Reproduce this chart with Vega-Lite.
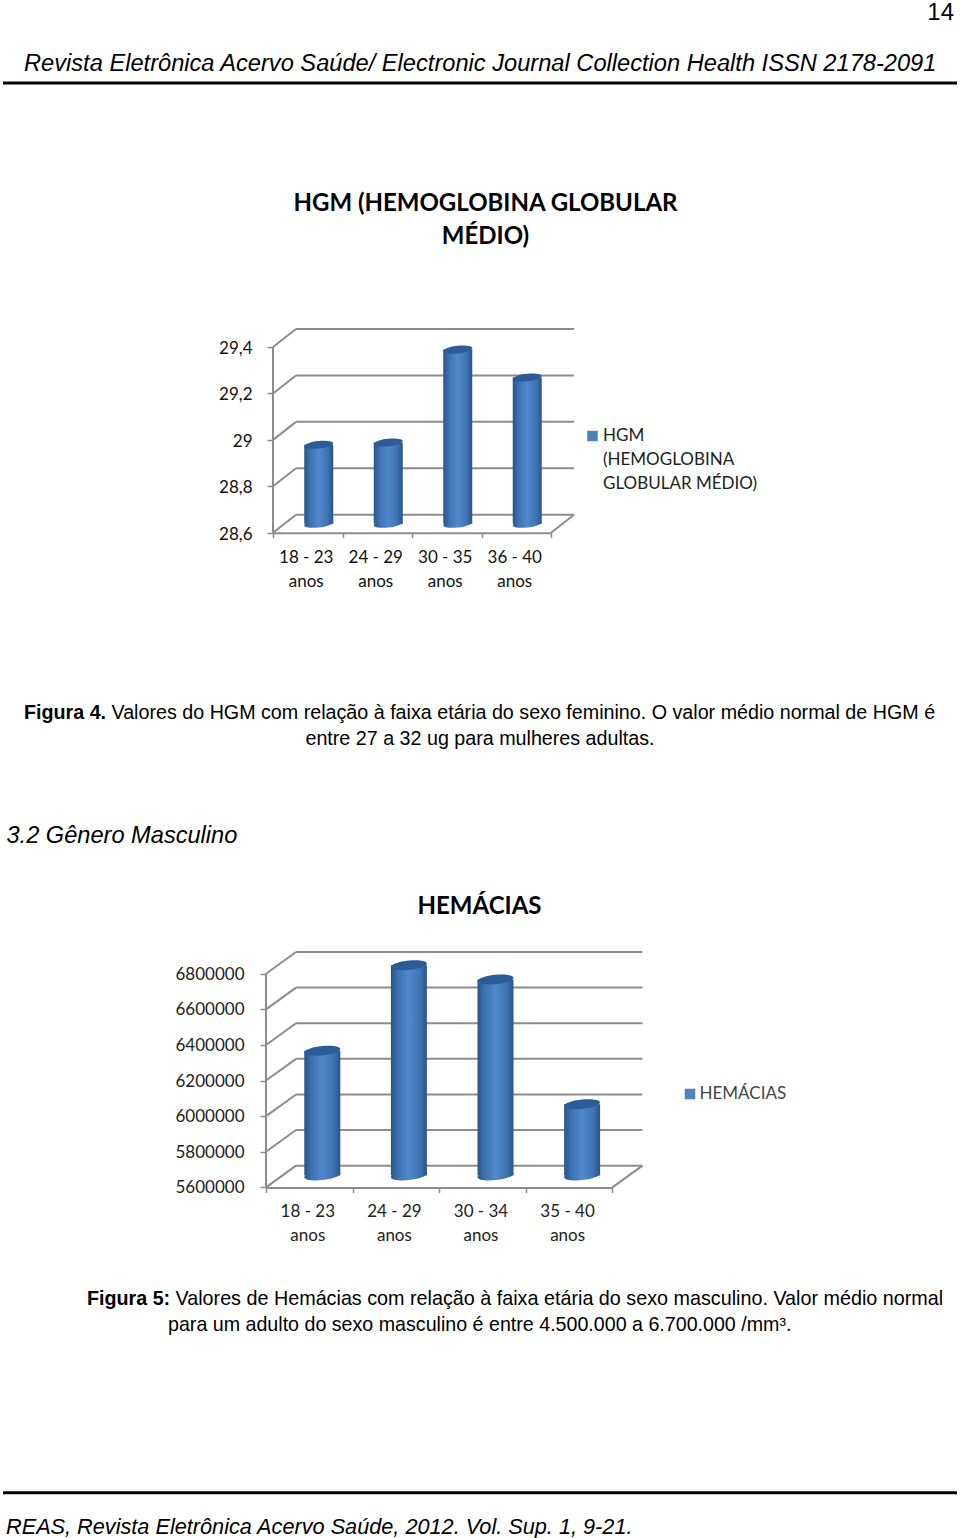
{
"$schema":"https://vega.github.io/schema/vega-lite/v6.json",
"background":"white","padding":0,"spacing":0,"bounds":"flush",
"config":{"view":{"stroke":null},"text":{"font":"Liberation Sans","color":"#000"}},
"datasets":{
"g1":[{"n0":28.6,"n1":28.6776,"a":0,"b":0.331,"c":4.331},{"n0":28.8,"n1":28.8776,"a":0,"b":0.331,"c":4.331},{"n0":29.0,"n1":29.0776,"a":0,"b":0.331,"c":4.331},{"n0":29.2,"n1":29.2776,"a":0,"b":0.331,"c":4.331},{"n0":29.4,"n1":29.4776,"a":0,"b":0.331,"c":4.331}],
"b1":[{"faixa":"18 - 23 anos","valor":28.94},{"faixa":"24 - 29 anos","valor":28.95},{"faixa":"30 - 35 anos","valor":29.35},{"faixa":"36 - 40 anos","valor":29.23}],
"g2":[{"n0":5600000,"n1":5722000,"a":0,"b":0.347,"c":4.347},{"n0":5800000,"n1":5922000,"a":0,"b":0.347,"c":4.347},{"n0":6000000,"n1":6122000,"a":0,"b":0.347,"c":4.347},{"n0":6200000,"n1":6322000,"a":0,"b":0.347,"c":4.347},{"n0":6400000,"n1":6522000,"a":0,"b":0.347,"c":4.347},{"n0":6600000,"n1":6722000,"a":0,"b":0.347,"c":4.347},{"n0":6800000,"n1":6922000,"a":0,"b":0.347,"c":4.347}],
"b2":[{"faixa":"18 - 23 anos","valor":6300000},{"faixa":"24 - 29 anos","valor":6780000},{"faixa":"30 - 34 anos","valor":6700000},{"faixa":"35 - 40 anos","valor":6000000}]
},
"vconcat":[
{"width":960,"height":329,"layer":[
{"data":{"values":[{"t":"14"}]},"mark":{"type":"text","x":954,"y":19.5,"align":"right","baseline":"alphabetic","fontSize":24},"encoding":{"text":{"field":"t"}}},
{"data":{"values":[{"t":"Revista Eletrônica Acervo Saúde/ Electronic Journal Collection Health ISSN 2178-2091"}]},"mark":{"type":"text","x":24,"y":70.5,"align":"left","baseline":"alphabetic","fontSize":23.65,"fontStyle":"italic"},"encoding":{"text":{"field":"t"}}},
{"data":{"values":[{"r":1}]},"mark":{"type":"rule","strokeWidth":3,"color":"#000"},"encoding":{"x":{"value":3},"x2":{"value":957},"y":{"value":83}}}
]},
{"width":960,"height":203.7,
"title":{"text":["HGM (HEMOGLOBINA GLOBULAR","MÉDIO)"],"font":"Lato","fontSize":24,"fontWeight":"bold","anchor":"middle","frame":"group","offset":79,"dx":5.5,"lineHeight":33,"color":"#000"},
"layer":[
{"data":{"name":"g1"},"mark":{"type":"rule","color":"#8c8c8c","strokeWidth":2},"encoding":{"x":{"field":"a","type":"quantitative","axis":null,"scale":{"domain":[0,4],"range":[273,551]}},"x2":{"field":"b"},"y":{"field":"n0","type":"quantitative","axis":{"values":[28.6,28.8,29,29.2,29.4],"tickCount":5,"format":".1~f","labelExpr":"replace(datum.label,'.',',')","labelOverlap":false,"title":null,"grid":false,"domain":false,"offset":-273,"tickColor":"#8c8c8c","tickSize":6,"tickWidth":1.5,"labelPadding":15,"labelOffset":1.5,"labelFont":"Lato","labelFontSize":17,"labelColor":"#111"},"scale":{"domain":[28.6,29.4776],"nice":false,"zero":false}},"y2":{"field":"n1"}}},
{"data":{"name":"g1"},"mark":{"type":"rule","color":"#8c8c8c","strokeWidth":2},"encoding":{"x":{"field":"b","type":"quantitative","axis":null,"scale":{"domain":[0,4],"range":[273,551]}},"x2":{"field":"c"},"y":{"field":"n1","type":"quantitative"}}},
{"data":{"values":[{"a":0,"n0":28.6,"n1":29.4}]},"mark":{"type":"rule","color":"#8c8c8c","strokeWidth":2},"encoding":{"x":{"field":"a","type":"quantitative","axis":null,"scale":{"domain":[0,4],"range":[273,551]}},"y":{"field":"n0","type":"quantitative"},"y2":{"field":"n1"}}},
{"data":{"values":[{"a":4,"b":4.331,"n0":28.6,"n1":28.6776}]},"mark":{"type":"rule","color":"#8c8c8c","strokeWidth":2},"encoding":{"x":{"field":"a","type":"quantitative","axis":null,"scale":{"domain":[0,4],"range":[273,551]}},"x2":{"field":"b"},"y":{"field":"n0","type":"quantitative"},"y2":{"field":"n1"}}},
{"data":{"name":"b1"},"mark":{"type":"bar","width":29,"xOffset":11,"yOffset":-9,"y2Offset":-9,"color":{"gradient":"linear","x1":0,"y1":0,"x2":1,"y2":0,"stops":[{"offset":0,"color":"#2a5488"},{"offset":0.22,"color":"#3f74b4"},{"offset":0.5,"color":"#5088cc"},{"offset":0.8,"color":"#3f74b4"},{"offset":1,"color":"#2a5488"}]}},"encoding":{"x":{"field":"faixa","type":"nominal","sort":null,"scale":{"range":[273,551],"paddingInner":0,"paddingOuter":0},"axis":{"title":null,"labelAngle":0,"labelExpr":"datum.label ? [replace(datum.label,' anos',''),'anos'] : ''","labelOverlap":false,"labelLineHeight":24,"labelBaseline":"top","tickBand":"extent","domainColor":"#8c8c8c","domainWidth":2,"tickColor":"#8c8c8c","tickSize":5,"tickWidth":1.5,"labelPadding":12,"labelOffset":-2,"labelFont":"Lato","labelFontSize":17,"labelColor":"#111"}},"y":{"field":"valor","type":"quantitative"},"y2":{"datum":28.6}}},
{"data":{"name":"b1"},"mark":{"type":"point","filled":true,"opacity":1,"size":841,"xOffset":11,"yOffset":-9,"shape":"M-1,0.1 A1,0.26 -6 1 0 1,-0.1 A1,0.26 -6 1 0 -1,0.1 Z","color":{"gradient":"linear","x1":0,"y1":0,"x2":1,"y2":0,"stops":[{"offset":0,"color":"#2a5488"},{"offset":0.22,"color":"#3f74b4"},{"offset":0.5,"color":"#5088cc"},{"offset":0.8,"color":"#3f74b4"},{"offset":1,"color":"#2a5488"}]}},"encoding":{"x":{"field":"faixa","type":"nominal","sort":null,"axis":null,"scale":{"range":[273,551],"paddingInner":0,"paddingOuter":0}},"y":{"datum":28.6}}},
{"data":{"name":"b1"},"mark":{"type":"point","filled":true,"opacity":1,"size":841,"xOffset":11,"yOffset":-9,"shape":"M-1,0.1 A1,0.26 -6 1 0 1,-0.1 A1,0.26 -6 1 0 -1,0.1 Z","color":"#2b5c98"},"encoding":{"x":{"field":"faixa","type":"nominal","sort":null,"axis":null,"scale":{"range":[273,551],"paddingInner":0,"paddingOuter":0}},"y":{"field":"valor","type":"quantitative"}}},
{"data":{"values":[{"s":"HGM (HEMOGLOBINA GLOBULAR MÉDIO)"}]},"mark":{"type":"square","x":592.5,"y":107,"size":110,"color":"#4f81bd","opacity":1},"encoding":{"detail":{"field":"s"}}},
{"data":{"values":[{"t":["HGM","(HEMOGLOBINA","GLOBULAR MÉDIO)"]}]},"mark":{"type":"text","x":603,"y":107,"align":"left","baseline":"middle","lineHeight":24,"font":"Lato","fontSize":17,"color":"#222"},"encoding":{"text":{"field":"t"}}}
],
"resolve":{"scale":{"x":"independent"},"axis":{"x":"independent"}}},
{"width":960,"height":418.6,"layer":[
{"data":{"values":[{"t":"Figura 4."}]},"mark":{"type":"text","x":24,"y":186,"align":"left","baseline":"alphabetic","fontSize":19.7,"fontWeight":"bold"},"encoding":{"text":{"field":"t"}}},
{"data":{"values":[{"t":"Valores do HGM com relação à faixa etária do sexo feminino. O valor médio normal de HGM é"}]},"mark":{"type":"text","x":111.5,"y":186,"align":"left","baseline":"alphabetic","fontSize":19.7},"encoding":{"text":{"field":"t"}}},
{"data":{"values":[{"t":"entre 27 a 32 ug para mulheres adultas."}]},"mark":{"type":"text","x":480,"y":212,"align":"center","baseline":"alphabetic","fontSize":19.7},"encoding":{"text":{"field":"t"}}},
{"data":{"values":[{"t":"3.2 Gênero Masculino"}]},"mark":{"type":"text","x":6.5,"y":310,"align":"left","baseline":"alphabetic","fontSize":23.6,"fontStyle":"italic"},"encoding":{"text":{"field":"t"}}}
]},
{"width":960,"height":235.4,
"title":{"text":"HEMÁCIAS","font":"Lato","fontSize":24,"fontWeight":"bold","anchor":"middle","frame":"group","offset":32,"dx":-0.5,"color":"#000"},
"layer":[
{"data":{"name":"g2"},"mark":{"type":"rule","color":"#8c8c8c","strokeWidth":2},"encoding":{"x":{"field":"a","type":"quantitative","axis":null,"scale":{"domain":[0,4],"range":[266,612.4]}},"x2":{"field":"b"},"y":{"field":"n0","type":"quantitative","axis":{"values":[5600000,5800000,6000000,6200000,6400000,6600000,6800000],"tickCount":7,"format":"d","labelOverlap":false,"title":null,"grid":false,"domain":false,"offset":-266,"tickColor":"#8c8c8c","tickSize":6,"tickWidth":1.5,"labelPadding":16,"labelOffset":0.5,"labelFont":"Lato","labelFontSize":17,"labelColor":"#222"},"scale":{"domain":[5600000,6922000],"nice":false,"zero":false}},"y2":{"field":"n1"}}},
{"data":{"name":"g2"},"mark":{"type":"rule","color":"#8c8c8c","strokeWidth":2},"encoding":{"x":{"field":"b","type":"quantitative","axis":null,"scale":{"domain":[0,4],"range":[266,612.4]}},"x2":{"field":"c"},"y":{"field":"n1","type":"quantitative"}}},
{"data":{"values":[{"a":0,"n0":5600000,"n1":6800000}]},"mark":{"type":"rule","color":"#8c8c8c","strokeWidth":2},"encoding":{"x":{"field":"a","type":"quantitative","axis":null,"scale":{"domain":[0,4],"range":[266,612.4]}},"y":{"field":"n0","type":"quantitative"},"y2":{"field":"n1"}}},
{"data":{"values":[{"a":4,"b":4.347,"n0":5600000,"n1":5722000}]},"mark":{"type":"rule","color":"#8c8c8c","strokeWidth":2},"encoding":{"x":{"field":"a","type":"quantitative","axis":null,"scale":{"domain":[0,4],"range":[266,612.4]}},"x2":{"field":"b"},"y":{"field":"n0","type":"quantitative"},"y2":{"field":"n1"}}},
{"data":{"name":"b2"},"mark":{"type":"bar","width":36,"xOffset":13,"yOffset":-12,"y2Offset":-12,"color":{"gradient":"linear","x1":0,"y1":0,"x2":1,"y2":0,"stops":[{"offset":0,"color":"#2a5488"},{"offset":0.22,"color":"#3f74b4"},{"offset":0.5,"color":"#5088cc"},{"offset":0.8,"color":"#3f74b4"},{"offset":1,"color":"#2a5488"}]}},"encoding":{"x":{"field":"faixa","type":"nominal","sort":null,"scale":{"range":[266,612.4],"paddingInner":0,"paddingOuter":0},"axis":{"title":null,"labelAngle":0,"labelExpr":"datum.label ? [replace(datum.label,' anos',''),'anos'] : ''","labelOverlap":false,"labelLineHeight":24,"labelBaseline":"top","tickBand":"extent","domainColor":"#8c8c8c","domainWidth":2,"tickColor":"#8c8c8c","tickSize":5,"tickWidth":1.5,"labelPadding":11,"labelOffset":-2,"labelFont":"Lato","labelFontSize":17,"labelColor":"#222"}},"y":{"field":"valor","type":"quantitative"},"y2":{"datum":5600000}}},
{"data":{"name":"b2"},"mark":{"type":"point","filled":true,"opacity":1,"size":1296,"xOffset":13,"yOffset":-12,"shape":"M-1,0.1 A1,0.26 -6 1 0 1,-0.1 A1,0.26 -6 1 0 -1,0.1 Z","color":{"gradient":"linear","x1":0,"y1":0,"x2":1,"y2":0,"stops":[{"offset":0,"color":"#2a5488"},{"offset":0.22,"color":"#3f74b4"},{"offset":0.5,"color":"#5088cc"},{"offset":0.8,"color":"#3f74b4"},{"offset":1,"color":"#2a5488"}]}},"encoding":{"x":{"field":"faixa","type":"nominal","sort":null,"axis":null,"scale":{"range":[266,612.4],"paddingInner":0,"paddingOuter":0}},"y":{"datum":5600000}}},
{"data":{"name":"b2"},"mark":{"type":"point","filled":true,"opacity":1,"size":1296,"xOffset":13,"yOffset":-12,"shape":"M-1,0.1 A1,0.26 -6 1 0 1,-0.1 A1,0.26 -6 1 0 -1,0.1 Z","color":"#2b5c98"},"encoding":{"x":{"field":"faixa","type":"nominal","sort":null,"axis":null,"scale":{"range":[266,612.4],"paddingInner":0,"paddingOuter":0}},"y":{"field":"valor","type":"quantitative"}}},
{"data":{"values":[{"s":"HEMÁCIAS"}]},"mark":{"type":"square","x":690,"y":142,"size":110,"color":"#4f81bd","opacity":1},"encoding":{"detail":{"field":"s"}}},
{"data":{"values":[{"t":"HEMÁCIAS"}]},"mark":{"type":"text","x":699.5,"y":141.5,"align":"left","baseline":"middle","font":"Lato","fontSize":17,"color":"#444"},"encoding":{"text":{"field":"t"}}}
],
"resolve":{"scale":{"x":"independent"},"axis":{"x":"independent"}}},
{"width":960,"height":351.3,"layer":[
{"data":{"values":[{"t":"Figura 5:"}]},"mark":{"type":"text","x":87,"y":117,"align":"left","baseline":"alphabetic","fontSize":19.7,"fontWeight":"bold"},"encoding":{"text":{"field":"t"}}},
{"data":{"values":[{"t":"Valores de Hemácias com relação à faixa etária do sexo masculino. Valor médio normal"}]},"mark":{"type":"text","x":175.5,"y":117,"align":"left","baseline":"alphabetic","fontSize":19.75},"encoding":{"text":{"field":"t"}}},
{"data":{"values":[{"t":"para um adulto do sexo masculino é entre 4.500.000 a 6.700.000 /mm³."}]},"mark":{"type":"text","x":168,"y":143,"align":"left","baseline":"alphabetic","fontSize":19.65},"encoding":{"text":{"field":"t"}}},
{"data":{"values":[{"r":1}]},"mark":{"type":"rule","strokeWidth":3,"color":"#000"},"encoding":{"x":{"value":3},"x2":{"value":957},"y":{"value":304.8}}},
{"data":{"values":[{"t":"REAS, Revista Eletrônica Acervo Saúde, 2012. Vol. Sup. 1, 9-21."}]},"mark":{"type":"text","x":6,"y":345.5,"align":"left","baseline":"alphabetic","fontSize":21.7,"fontStyle":"italic"},"encoding":{"text":{"field":"t"}}}
]}
]
}
